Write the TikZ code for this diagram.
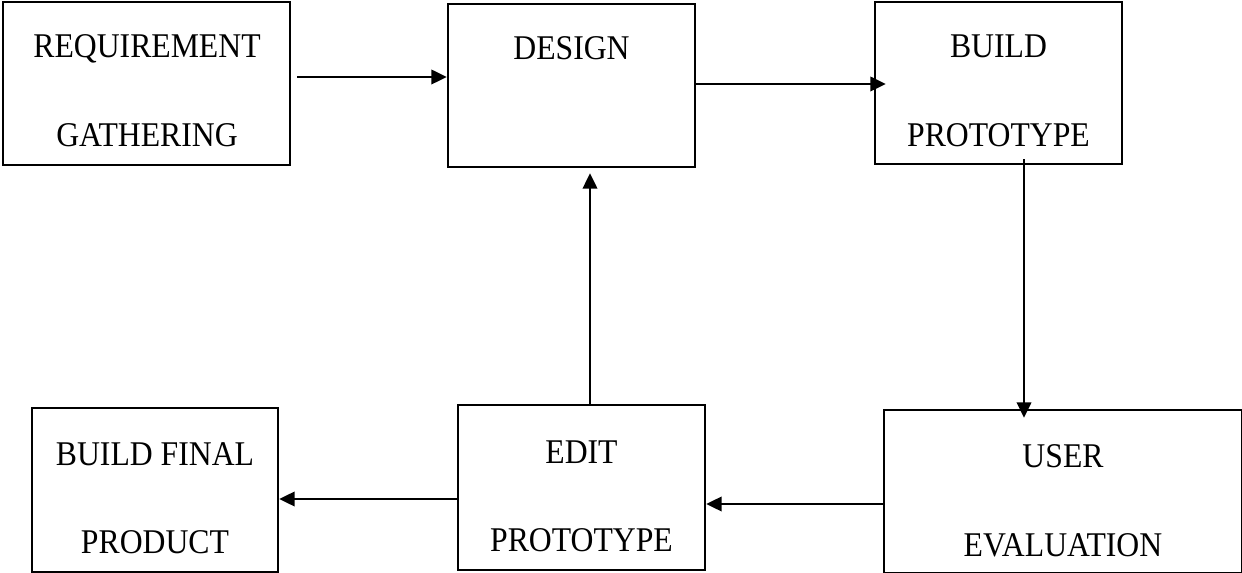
\documentclass[tikz,border=0pt]{standalone}
\usepackage{fontspec}
\setmainfont{Liberation Serif}
\usetikzlibrary{arrows.meta,fit}
% slightly condensed label lettering
\newcommand\stg[1]{\scalebox{0.915}[1]{#1}}
\begin{document}
\begin{tikzpicture}[x=0.75pt,y=-0.75pt,
  stagebox/.style={draw=black,line width=2pt,inner sep=0pt,fill=none},
  lbl/.style={anchor=base,inner sep=0pt,font=\fontsize{26pt}{30pt}\selectfont},
  arr/.style={line width=1.3pt,-{Triangle[length=11.5pt,width=11pt]}}]
\useasboundingbox (0,0) rectangle (1242,573);
\fill[white] (0,0) rectangle (1242,573);

% stages
\node[stagebox,fit={(3,2) (290,165)}]     (req)    {};
\node[stagebox,fit={(448,4) (695,167)}]   (design) {};
\node[stagebox,fit={(875,2) (1122,164)}]  (build)  {};
\node[stagebox,fit={(884,410) (1242,573)}] (user)  {};
\node[stagebox,fit={(458,405) (705,570)}] (edit)   {};
\node[stagebox,fit={(32,408) (278,572)}]  (final)  {};

% stage labels
\node[lbl] (reqA)   at (147,58)    {\stg{REQUIREMENT}};
\node[lbl] (reqB)   at (147,147)   {\stg{GATHERING}};
\node[lbl] (desA)   at (571.5,60)  {\stg{DESIGN}};
\node[lbl] (bldA)   at (998.5,58)  {\stg{BUILD}};
\node[lbl] (bldB)   at (998.5,147) {\stg{PROTOTYPE}};
\node[lbl] (usrA)   at (1063,467)  {\stg{USER}};
\node[lbl] (usrB)   at (1063,556)  {\stg{EVALUATION}};
\node[lbl] (edtA)   at (581.5,463) {\stg{EDIT}};
\node[lbl] (edtB)   at (581.5,551) {\stg{PROTOTYPE}};
\node[lbl] (finA)   at (155,465)   {\stg{BUILD FINAL}};
\node[lbl] (finB)   at (155,553)   {\stg{PRODUCT}};

% flow between stages
\draw[arr,shorten <=4.5pt] (req.east |- 0,77) -- (design.west |- 0,77);
\draw[arr,shorten >=-9pt] (design.east |- 0,84) -- (build.west |- 0,84);
\draw[arr,shorten <=-4.5pt,shorten >=-6.75pt] (build.south -| 1024,0) -- (user.north -| 1024,0);
\draw[arr] (user.west |- 0,504) -- (edit.east |- 0,504);
\draw[arr] (edit.west |- 0,499) -- (final.east |- 0,499);
\draw[arr,shorten >=3.75pt] (edit.north -| 590,0) -- (design.south -| 590,0);
\end{tikzpicture}
\end{document}
